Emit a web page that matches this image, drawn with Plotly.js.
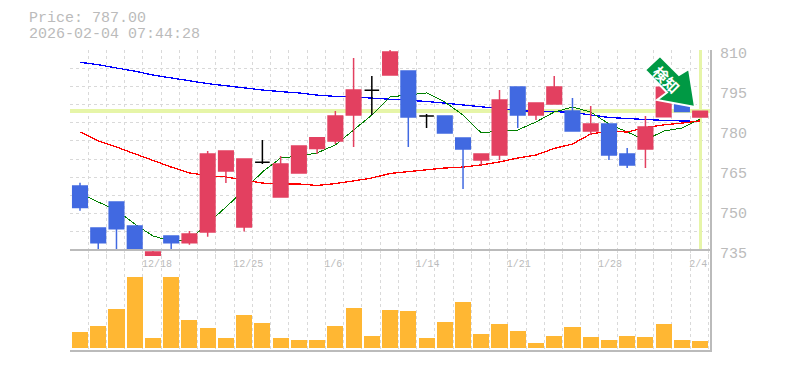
<!DOCTYPE html>
<html><head><meta charset="utf-8">
<script src="https://cdn.plot.ly/plotly-3.0.1.min.js"></script>
<style>html,body{margin:0;padding:0;background:#fff}#c{width:785px;height:370px}
#c svg path.js-line{shape-rendering:crispEdges}</style>
</head><body><div id="c"></div>
<script>
const opens=[759,743.25,753,744,732.75,740.25,737.7,741.75,764.6,743.6,767.9,754.9,763.9,773.1,775.9,785.6,794.9,800.6,802.1,785.25,785.25,777,768.75,770.6,796.1,785.6,789.75,787.1,779.6,782.25,771,772.9,785,794.25,784.9];
const highs=[760.2,743.25,753,744,735,740.25,742.1,772.1,772.1,769.1,776.25,770.25,774,777.1,787.1,807,800.25,810,802.1,786,785.25,777,771,795,796.1,790.1,800.25,792,789,782.25,773.25,785.25,796,794.25,787];
const lows=[749.7,735,735,735,732.75,735,737,740,760.1,741.9,767.25,754.9,763.9,771,774.75,773.6,785.6,800.6,773.6,780.75,778.9,757.9,766.9,768.75,780.75,783.75,789.75,779.6,778.1,768.75,765.75,765.75,785,786.9,784.9];
const closes=[750.9,737.7,743,735,734.25,737.7,741,771,772.1,769.1,767.9,767.25,774,777.1,785.25,795,794.9,809.25,784.9,785.25,778.9,772.9,771,791.25,785.6,790.1,796.1,779.6,782.25,770.6,766.9,781.1,796,786.9,787];
const volumes=[16,22,39,71,10,71,28,20,10,33,25,10,8,8,22,40,12,38,37,10,26,46,14,24,17,5,12,21,11,8,12,11,24,8,7];
const maShort=[756.4,753,750,744.75,740.25,738.4,738.75,744.75,751.1,757.5,764.25,769.5,770.25,771.4,774.4,780,785.6,792.4,793.1,793.9,790.5,785.6,778.9,779.6,780,783,786.75,788.6,786.75,782.25,779.25,776.25,779.6,780.75,784.1];
const maMid=[779.25,775.9,773.6,771,768.6,766.1,763.9,762.9,762.4,761.25,760.1,759.75,759.75,759.2,759.9,760.9,762,763.7,764.4,765,765.75,766.1,766.9,768,769.5,770.6,773.1,774.75,778.5,779.6,779.25,780.9,781.9,782.6,783.4];
const maLong=[805.4,804.5,803.25,802.1,800.6,799.5,798.4,797.4,796.6,795.75,795,794.4,793.9,793.1,792.6,792.4,792,791.6,791.25,790.7,790.1,789.4,788.6,787.9,787.3,786.9,786.9,786.6,785.6,784.7,784.3,783.9,783.6,783.4,783.2];
const dateTickIdx=[4,9,14,19,24,29,34];
const dateTickText=['12/18','12/25','1/6','1/14','1/21','1/28','2/4'];
const priceTicks=[735,750,765,780,795,810];
const lastPrice=787;
const headline=['Price: 787.00','2026-02-04 07:44:28'];
const badge='検知';

const idx=opens.map((_,i)=>i);
const xR=[-0.548,34.54], yR=[732.75,810];
const W=640,H=300,L=70,T=50;
const px=x=>(x-L)/W, py=y=>(T+H-y)/H;
const gray='#bbbbbb', grid='#d9d9d9', mono='"Liberation Mono", monospace';
const RED='#e34060', BLUE='#4169e1', YEL='#e6f5a8';
const body=idx.filter(i=>opens[i]!==closes[i]), doji=idx.filter(i=>opens[i]===closes[i]);
const pick=(a,s)=>s.map(i=>a[i]);
const cs=(s,inc,dec,w)=>({type:'candlestick',xaxis:'x3',yaxis:'y3',x:s,open:pick(opens,s),high:pick(highs,s),low:pick(lows,s),close:pick(closes,s),
  whiskerwidth:0,increasing:{line:{color:inc,width:w},fillcolor:inc},decreasing:{line:{color:dec,width:w},fillcolor:dec}});
const ln=(x,y,c,w)=>({type:'scatter',mode:'lines',x,y,xaxis:'x',yaxis:'y',line:{color:c,width:w}});
const traces=[
  ln(xR,[lastPrice,lastPrice],YEL,4),
  ln([34,34],[735,810],YEL,3),
  ln(idx,maLong,'#0000ff',1.3),
  ln(idx,maShort,'#008000',1),
  ln(idx,maMid,'#ff0000',1.3),
  {type:'bar',x:idx,y:volumes,xaxis:'x2',yaxis:'y2',width:0.88,marker:{color:'#ffb733',line:{width:0}}},
  cs(body,RED,BLUE,1.5),
  cs(doji,'#000000','#000000',1.5)
];
const minorX={tickmode:'linear',tick0:-0.548,dtick:1,showgrid:true,gridcolor:grid,griddash:'3px,3px',gridwidth:1,ticklen:0};
const arrow=[[660,56],[645,70],[667,92.5],[657,100],[695,107],[689,69],[679,75]];
const path='M'+arrow.map(p=>px(p[0])+','+py(p[1])).join('L')+'Z';
const layout={
  width:785,height:370,margin:{l:L,r:75,t:T,b:20,pad:0},paper_bgcolor:'#fff',plot_bgcolor:'rgba(0,0,0,0)',showlegend:false,boxgap:0.2,boxgroupgap:0,bargap:0,
  xaxis:{domain:[0,1],range:xR,anchor:'y',tickmode:'array',tickvals:dateTickIdx,ticktext:dateTickText,showgrid:false,zeroline:false,showline:false,ticks:'',
    ticklabelposition:'outside right',ticklabelshift:-11,tickfont:{family:mono,size:10,color:gray},minor:minorX},
  yaxis:{domain:[py(256),1],range:yR,anchor:'x',side:'right',tickmode:'array',tickvals:priceTicks,ticktext:priceTicks.map(String),showgrid:false,zeroline:false,ticks:'',
    showline:true,linecolor:gray,linewidth:2,ticklabelstandoff:5,ticklabelshift:3,tickfont:{family:mono,size:15,color:gray},
    minor:{tickmode:'linear',tick0:735,dtick:75/11,showgrid:true,gridcolor:grid,griddash:'3px,3px',gridwidth:1,ticklen:0}},
  xaxis2:{domain:[0,1],range:xR,anchor:'y2',showticklabels:false,showgrid:false,zeroline:false,ticks:'',showline:true,linecolor:gray,linewidth:2,tickmode:'array',tickvals:[],minor:minorX},
  yaxis2:{domain:[0,py(250)],range:[-2,98],anchor:'x2',side:'right',showticklabels:false,showgrid:false,zeroline:false,ticks:'',showline:true,linecolor:gray,linewidth:2},
  xaxis3:{overlaying:'x',range:xR,anchor:'y3',visible:false,rangeslider:{visible:false}},
  yaxis3:{overlaying:'y',range:yR,anchor:'x3',side:'right',visible:false},
  shapes:[
    {type:'line',xref:'paper',yref:'y',x0:0,x1:1,y0:735,y1:735,line:{color:gray,width:2},layer:'above'},
    {type:'path',xref:'paper',yref:'paper',path,fillcolor:'#009944',line:{color:'#ffffff',width:2},layer:'above'}
  ],
  annotations:[
    {xref:'paper',yref:'paper',x:px(28),y:py(18.5),xanchor:'left',yanchor:'middle',showarrow:false,text:headline[0],borderpad:0,font:{family:mono,size:15,color:gray}},
    {xref:'paper',yref:'paper',x:px(28),y:py(34.5),xanchor:'left',yanchor:'middle',showarrow:false,text:headline[1],borderpad:0,font:{family:mono,size:15,color:gray}},
    {xref:'paper',yref:'paper',x:px(667),y:py(79),xanchor:'center',yanchor:'middle',showarrow:false,textangle:45,text:'<b>'+badge+'</b>',font:{family:'"Noto Sans CJK JP"',size:15,color:'#ffffff'}}
  ]
};
Plotly.newPlot('c',traces,layout,{staticPlot:true,displayModeBar:false});
</script></body></html>
